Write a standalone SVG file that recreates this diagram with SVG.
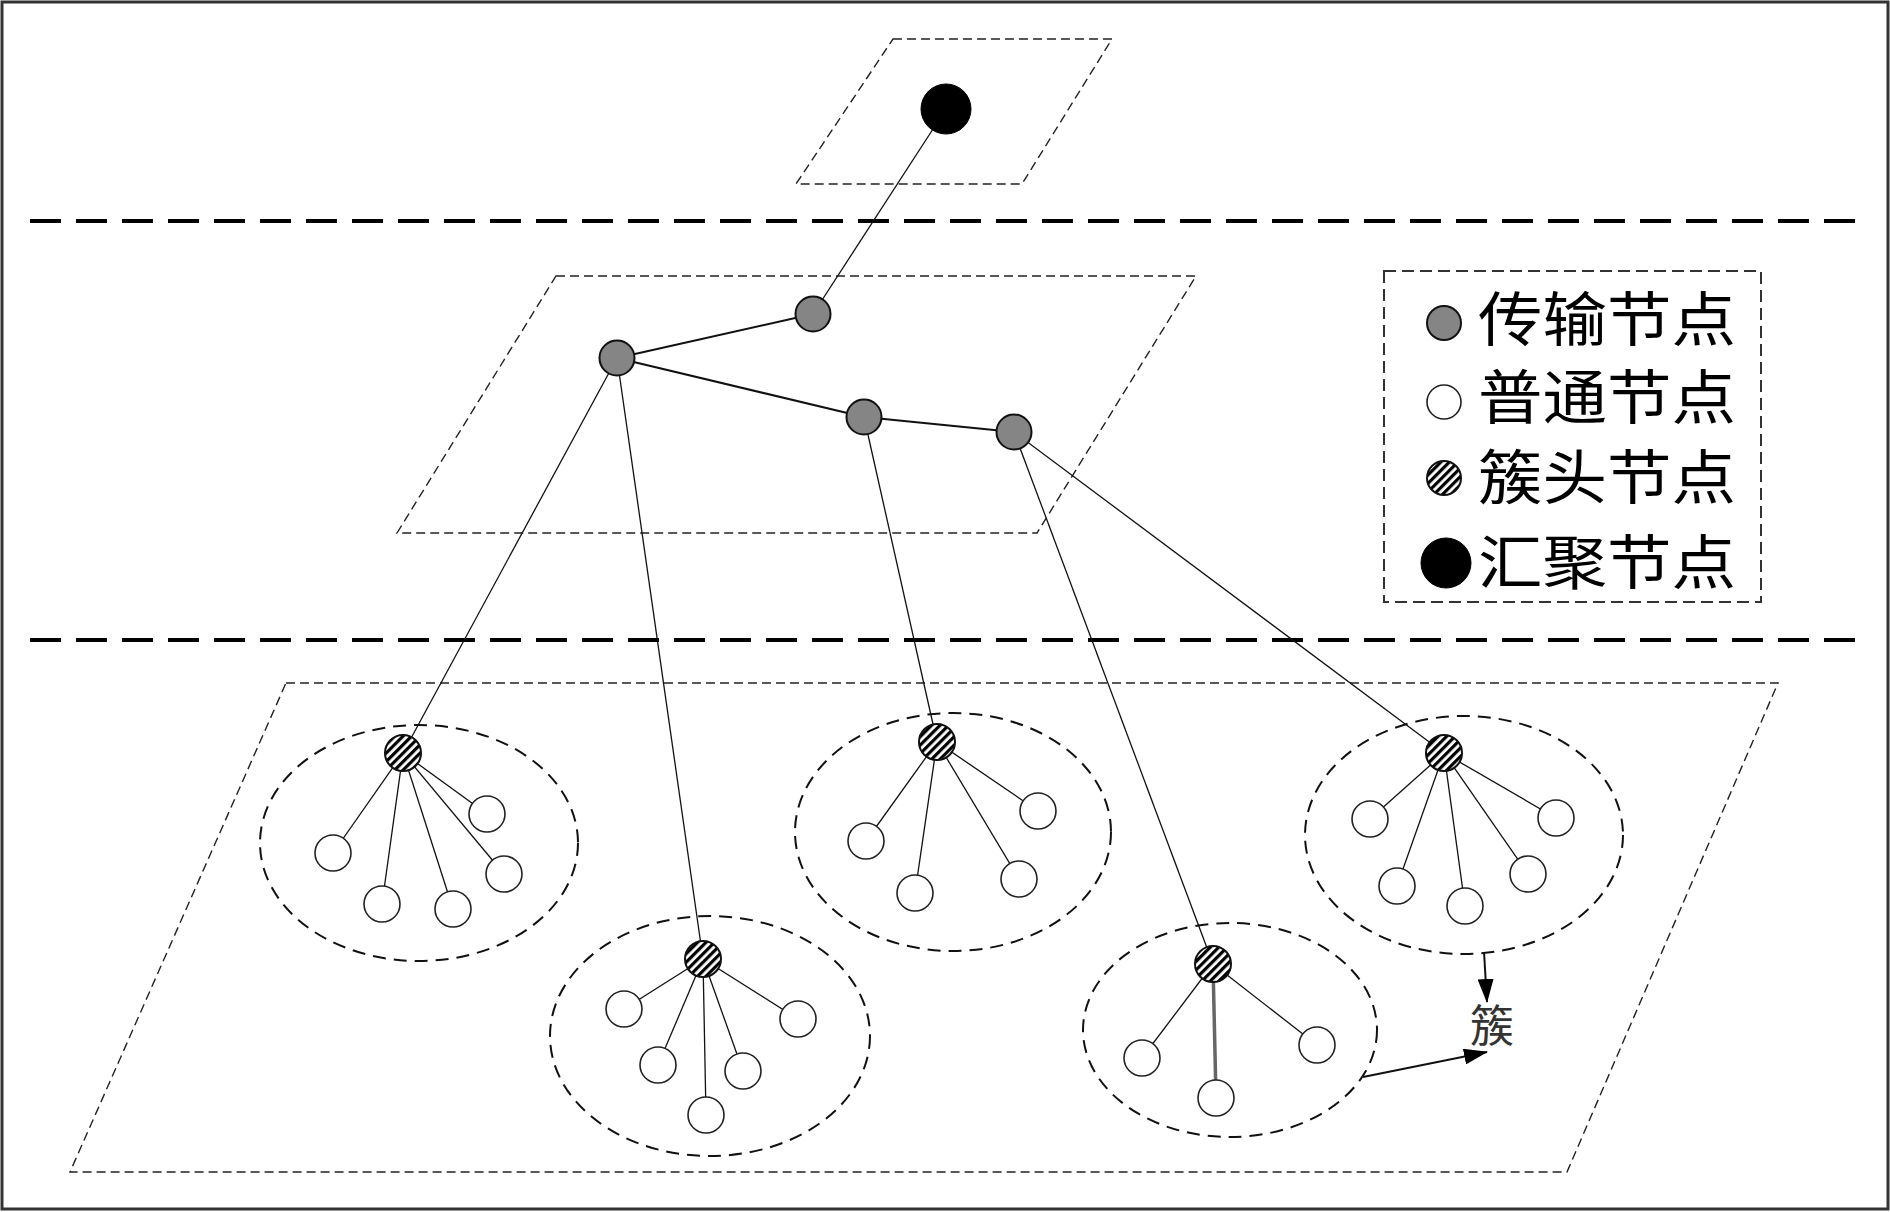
<svg xmlns="http://www.w3.org/2000/svg" width="1890" height="1212" viewBox="0 0 1890 1212">
<defs>
<pattern id="hatch" patternUnits="userSpaceOnUse" width="6" height="6" patternTransform="rotate(45)">
<rect x="0" y="0" width="6" height="6" fill="#fff"/>
<rect x="0" y="0" width="3.2" height="6" fill="#000"/>
</pattern>
<marker id="arr" viewBox="0 0 24 16" refX="23" refY="8" markerWidth="24" markerHeight="16" markerUnits="userSpaceOnUse" orient="auto">
<path d="M0,0 L24,8 L0,16 Z" fill="#000"/>
</marker>
</defs>
<style>
.frame{fill:none;stroke:#333;stroke-width:3}
.plane{fill:none;stroke:#222;stroke-width:1.4;stroke-dasharray:9 5}
.sep{fill:none;stroke:#000;stroke-width:4;stroke-dasharray:31 15}
.cluster{fill:none;stroke:#111;stroke-width:2;stroke-dasharray:13 8}
.legendbox{fill:none;stroke:#333;stroke-width:2;stroke-dasharray:12 6}
.edge{stroke:#111;stroke-width:1.3;fill:none}
.edge2{stroke:#111;stroke-width:2;fill:none}
.trans{fill:#858585;stroke:#111;stroke-width:2}
.sink{fill:#000;stroke:#000;stroke-width:1}
.head{fill:url(#hatch);stroke:#111;stroke-width:2}
.norm{fill:#fff;stroke:#222;stroke-width:1.6}
.lt{font-family:"Noto Sans CJK SC","Noto Sans CJK JP",sans-serif;font-size:59px;fill:#000}
.lbl{font-family:"Noto Sans CJK SC","Noto Sans CJK JP",sans-serif;font-size:44px;fill:#333}
</style>
<rect class="frame" x="2" y="2" width="1886" height="1207"/>
<g id="planes">
<polygon class="plane" points="893,39 1112,39 1022,184 796,184"/>
<polygon class="plane" points="556,276 1196,276 1037,533 397,533"/>
<polygon class="plane" points="286,683 1778,683 1567,1172 70,1172"/>
</g>
<g id="separators">
<line class="sep" x1="30" y1="221" x2="1860" y2="221"/>
<line class="sep" x1="30" y1="640" x2="1860" y2="640"/>
</g>
<g id="cluster-regions">
<ellipse class="cluster" cx="419" cy="843" rx="159" ry="118"/>
<ellipse class="cluster" cx="710" cy="1036" rx="160" ry="120"/>
<ellipse class="cluster" cx="953" cy="832" rx="158" ry="119"/>
<ellipse class="cluster" cx="1464" cy="835" rx="159" ry="119"/>
<ellipse class="cluster" cx="1230" cy="1030" rx="147" ry="107"/>
</g>
<g id="connectors">
<line class="edge" x1="946" y1="109" x2="813" y2="314"/>
<line class="edge2" x1="813" y1="314" x2="617" y2="358"/>
<line class="edge2" x1="617" y1="358" x2="864" y2="417"/>
<line class="edge2" x1="864" y1="417" x2="1014" y2="432"/>
<line class="edge" x1="617" y1="358" x2="403" y2="753"/>
<line class="edge" x1="617" y1="358" x2="703" y2="959"/>
<line class="edge" x1="864" y1="417" x2="937" y2="742"/>
<line class="edge" x1="1014" y1="432" x2="1213" y2="964"/>
<line class="edge" x1="1014" y1="432" x2="1444" y2="753"/>
<line class="edge" x1="403" y1="753" x2="333" y2="853"/>
<line class="edge" x1="403" y1="753" x2="487" y2="814"/>
<line class="edge" x1="403" y1="753" x2="504" y2="874"/>
<line class="edge" x1="403" y1="753" x2="382" y2="904"/>
<line class="edge" x1="403" y1="753" x2="453" y2="909"/>
<line class="edge" x1="703" y1="959" x2="624" y2="1009"/>
<line class="edge" x1="703" y1="959" x2="798" y2="1019"/>
<line class="edge" x1="703" y1="959" x2="658" y2="1065"/>
<line class="edge" x1="703" y1="959" x2="743" y2="1071"/>
<line class="edge" x1="703" y1="959" x2="706" y2="1115"/>
<line class="edge" x1="937" y1="742" x2="1038" y2="811"/>
<line class="edge" x1="937" y1="742" x2="866" y2="841"/>
<line class="edge" x1="937" y1="742" x2="1019" y2="879"/>
<line class="edge" x1="937" y1="742" x2="915" y2="893"/>
<line class="edge" x1="1444" y1="753" x2="1370" y2="819"/>
<line class="edge" x1="1444" y1="753" x2="1556" y2="818"/>
<line class="edge" x1="1444" y1="753" x2="1397" y2="886"/>
<line class="edge" x1="1444" y1="753" x2="1528" y2="874"/>
<line class="edge" x1="1444" y1="753" x2="1465" y2="906"/>
<line class="edge" x1="1213" y1="964" x2="1142" y2="1058"/>
<line class="edge" x1="1213" y1="964" x2="1317" y2="1045"/>
<line x1="1213" y1="964" x2="1216" y2="1098" stroke="#666" stroke-width="3.5"/>
<line class="edge2" x1="1484" y1="952" x2="1487" y2="1002" marker-end="url(#arr)"/>
<line class="edge2" x1="1363" y1="1077" x2="1487" y2="1052" marker-end="url(#arr)"/>
</g>
<g id="sink"><circle class="sink" cx="946" cy="109" r="25"/></g>
<g id="transport-nodes">
<circle class="trans" cx="813" cy="314" r="17.5"/>
<circle class="trans" cx="617" cy="358" r="17.5"/>
<circle class="trans" cx="864" cy="417" r="17.5"/>
<circle class="trans" cx="1014" cy="432" r="17.5"/>
</g>
<g id="cluster-1">
<circle class="norm" cx="333" cy="853" r="18"/>
<circle class="norm" cx="487" cy="814" r="18"/>
<circle class="norm" cx="504" cy="874" r="18"/>
<circle class="norm" cx="382" cy="904" r="18"/>
<circle class="norm" cx="453" cy="909" r="18"/>
<circle class="head" cx="403" cy="753" r="18"/>
</g>
<g id="cluster-2">
<circle class="norm" cx="624" cy="1009" r="18"/>
<circle class="norm" cx="798" cy="1019" r="18"/>
<circle class="norm" cx="658" cy="1065" r="18"/>
<circle class="norm" cx="743" cy="1071" r="18"/>
<circle class="norm" cx="706" cy="1115" r="18"/>
<circle class="head" cx="703" cy="959" r="18"/>
</g>
<g id="cluster-3">
<circle class="norm" cx="1038" cy="811" r="18"/>
<circle class="norm" cx="866" cy="841" r="18"/>
<circle class="norm" cx="1019" cy="879" r="18"/>
<circle class="norm" cx="915" cy="893" r="18"/>
<circle class="head" cx="937" cy="742" r="18"/>
</g>
<g id="cluster-4">
<circle class="norm" cx="1370" cy="819" r="18"/>
<circle class="norm" cx="1556" cy="818" r="18"/>
<circle class="norm" cx="1397" cy="886" r="18"/>
<circle class="norm" cx="1528" cy="874" r="18"/>
<circle class="norm" cx="1465" cy="906" r="18"/>
<circle class="head" cx="1444" cy="753" r="18"/>
</g>
<g id="cluster-5">
<circle class="norm" cx="1142" cy="1058" r="18"/>
<circle class="norm" cx="1317" cy="1045" r="18"/>
<circle class="norm" cx="1216" cy="1098" r="18"/>
<circle class="head" cx="1213" cy="964" r="18"/>
</g>
<g id="cluster-label"><text class="lbl" x="1470" y="1042">簇</text></g>
<g id="legend">
<rect class="legendbox" x="1384" y="271" width="377" height="331"/>
<circle class="trans" cx="1444" cy="323" r="17"/>
<text class="lt" x="1478" y="341" textLength="258" lengthAdjust="spacingAndGlyphs">传输节点</text>
<circle class="norm" cx="1444" cy="402" r="17"/>
<text class="lt" x="1478" y="419" textLength="258" lengthAdjust="spacingAndGlyphs">普通节点</text>
<circle class="head" cx="1444" cy="478" r="17"/>
<text class="lt" x="1478" y="499" textLength="258" lengthAdjust="spacingAndGlyphs">簇头节点</text>
<circle class="sink" cx="1446" cy="563" r="25"/>
<text class="lt" x="1478" y="584" textLength="258" lengthAdjust="spacingAndGlyphs">汇聚节点</text>
</g>
</svg>
